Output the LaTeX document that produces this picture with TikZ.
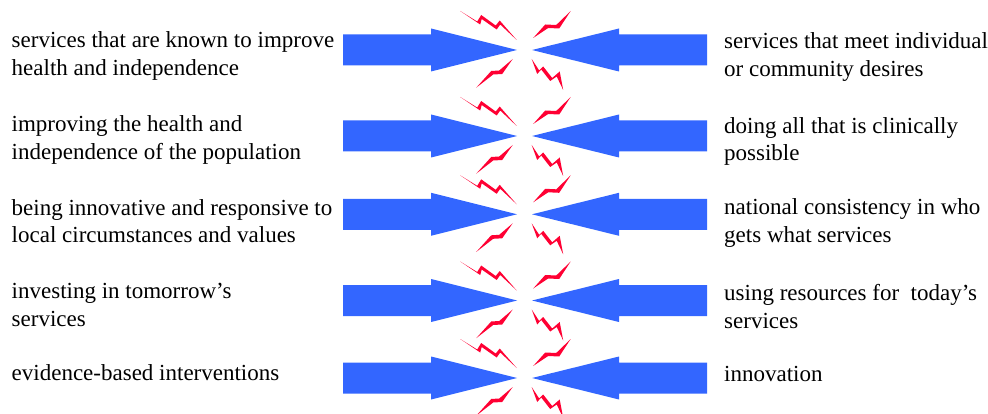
\documentclass[tikz,border=0pt]{standalone}
\usepackage{fontspec}
\setmainfont{Liberation Serif}
\definecolor{arrowblue}{RGB}{51,102,255}
\definecolor{boltred}{RGB}{255,0,51}
\begin{document}
\begin{tikzpicture}[x=1pt,y=-1pt,
  txt/.style={anchor=base west,inner sep=0pt,align=left,
    font=\fontsize{23}{27.6}\selectfont},
  bigarrow/.style={fill=arrowblue,draw=none},
  bolt/.style={fill=boltred,draw=none}]
\useasboundingbox (0,0) rectangle (988,414);
\clip (0,0) rectangle (988,414);
\foreach \c in {50,136,214.3,300.5,378}{
  % left arrow
  \fill[bigarrow] (343,{\c-15.5}) -- (431,{\c-15.5}) -- (431,{\c-21.5}) -- (517,\c)
     -- (431,{\c+21.5}) -- (431,{\c+15.5}) -- (343,{\c+15.5}) -- cycle;
  % right arrow
  \fill[bigarrow] (707,{\c-15.5}) -- (619,{\c-15.5}) -- (619,{\c-21.5}) -- (532,\c)
     -- (619,{\c+21.5}) -- (619,{\c+15.5}) -- (707,{\c+15.5}) -- cycle;
  \begin{scope}[shift={(524.2,\c)}]
    % upper left bolt
    \fill[bolt] (-64,-39) -- (-44,-25.5) -- (-42.5,-31) -- (-27.5,-20.5) -- (-24,-25.5) -- (-7.5,-10)
      -- (-24.5,-29.5) -- (-28.5,-24.5) -- (-43,-35) -- (-47,-28.5) -- cycle;
    % upper right bolt
    \fill[bolt] (9,-12) -- (21,-25.5) -- (32,-25) -- (46.5,-39)
      -- (35,-21.5) -- (24,-22) -- cycle;
    % lower left bolt
    \fill[bolt] (-11.5,9) -- (-25,20.5) -- (-33,21) -- (-48,37.7)
      -- (-31,24.5) -- (-22,24) -- cycle;
    % lower right bolt
    \fill[bolt] (7.5,9) -- (13,24) -- (17,19.5) -- (26,31) -- (32.5,26.5) -- (39,40)
      -- (35.5,21.5) -- (28,28) -- (19,16.5) -- (15,20.5) -- cycle;
  \end{scope}
}
\node[txt] (l1) at (11.5,75.5) {services that are known to improve\\health and independence};
\node[txt] (l2) at (11.5,159.5) {improving the health and\\independence of the population};
\node[txt] (l3) at (11.5,242.8) {being innovative and responsive to\\local circumstances and values};
\node[txt] (l4) at (11.5,326) {investing in tomorrow’s\\services};
\node[txt] (l5) at (11.5,380) {evidence-based interventions};
\node[txt] (r1) at (724,76.3) {services that meet individual\\or community desires};
\node[txt] (r2) at (724,161) {doing all that is clinically\\possible};
\node[txt] (r3) at (724,242.5) {national consistency in who\\gets what services};
\node[txt] (r4) at (724,328) {using resources for\ \ today’s\\services};
\node[txt] (r5) at (724,381.5) {innovation};
\end{tikzpicture}
\end{document}
